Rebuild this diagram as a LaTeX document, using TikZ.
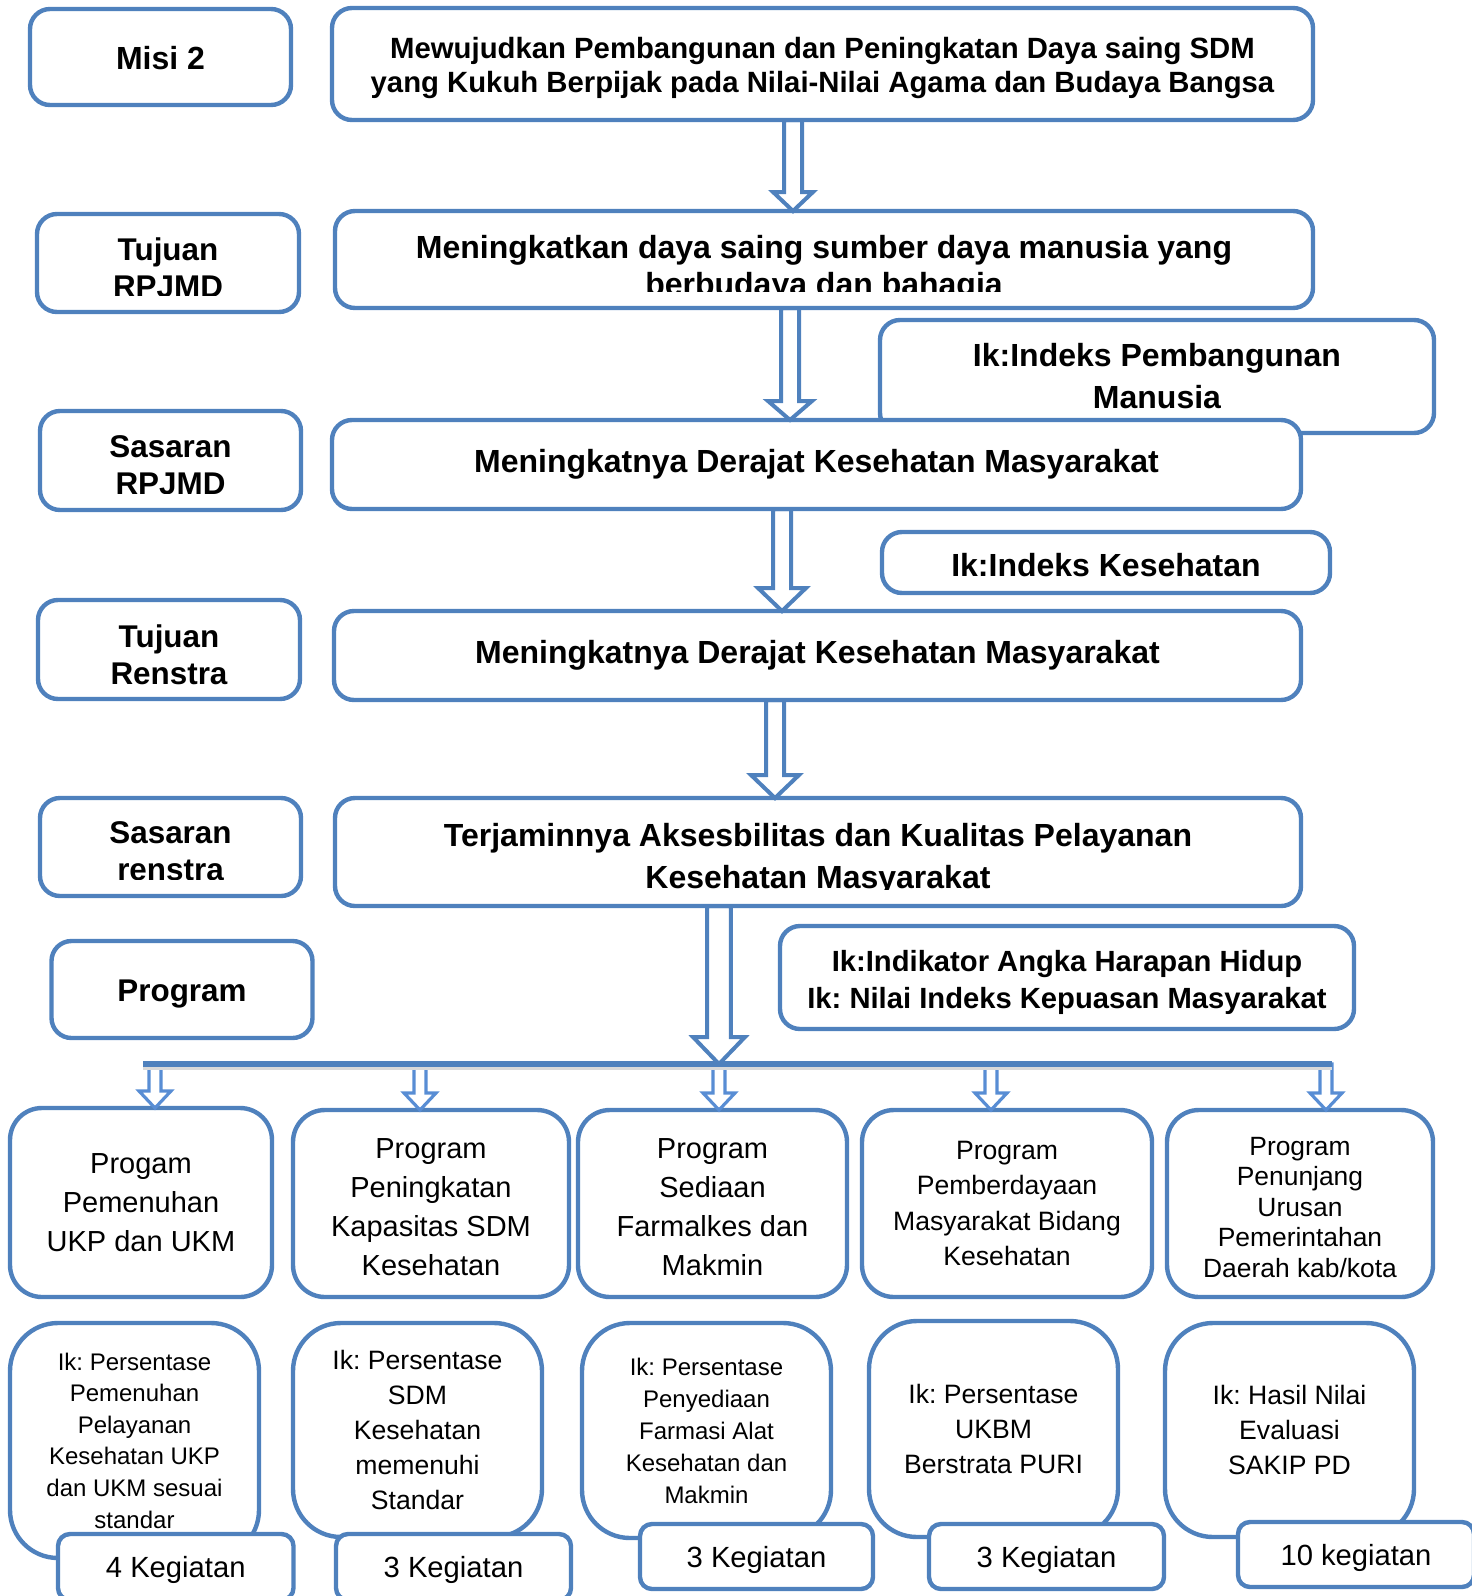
\documentclass[tikz,border=0pt]{standalone}
\usepackage{fontspec}
\setmainfont{Liberation Sans}
\usetikzlibrary{calc}

\definecolor{boxblue}{RGB}{79,129,189}
\definecolor{arrowblue}{RGB}{88,141,212}

\tikzset{
  every node/.style={inner sep=0pt, outer sep=0pt},
  box/.style={draw=boxblue, line width=2.2pt, fill=white, rounded corners=10pt, align=center},
  progbox/.style={box, rounded corners=16pt},
  ikbox/.style={box, rounded corners=24pt},
  kegbox/.style={box, rounded corners=6pt},
  side/.style={font=\bfseries\fontsize{15.7}{18.5}\selectfont, align=center},
  head/.style={font=\bfseries\fontsize{16}{18.5}\selectfont, align=center},
  prog/.style={font=\fontsize{14.5}{19.5}\selectfont, align=center},
  keg/.style={font=\fontsize{14.6}{16}\selectfont},
  arrowline/.style={draw=boxblue, line width=2pt, line join=miter},
  smallarrow/.style={draw=arrowblue, line width=1.6pt, line join=miter},
  bar/.style={draw=boxblue, line width=3pt},
}

% hollow block arrow: [style]{from}{to}{shaft half}{head half}{head length}
\newcommand{\hollowarrow}[6][arrowline]{%
  \draw[#1] let \p1=#2, \p2=#3 in
    (\x1-#4,\y1) -- (\x1-#4,\y2+#6) -- (\x1-#5,\y2+#6) -- (\x2,\y2)
    -- (\x1+#5,\y2+#6) -- (\x1+#4,\y2+#6) -- (\x1+#4,\y1) -- cycle;}

% text placed in a box, a little below its centre
\newcommand{\boxtext}[4][-2.5pt]{\node[#3] at ([yshift=#1]#2.center) {#4};}

% text cut off at the bottom of its box
\newcommand{\cuttext}[4][-2.25pt]{%
  \begin{scope}
    \clip (#2.north west) rectangle ([yshift=8.5pt]#2.south east);
    \node[#3] at ([yshift=#1]#2.center) {#4};
  \end{scope}}

\begin{document}
\frenchspacing
\begin{tikzpicture}[x=0.5pt,y=-0.5pt]
  \useasboundingbox (0,0) rectangle (1472,1596);

  % left column
  \node[box, minimum width=130.5pt, minimum height=48pt] (misi) at (160.5,57) {};
  \boxtext[-0.5pt]{misi}{side, font=\bfseries\fontsize{16}{18.5}\selectfont}{Misi 2}
  \node[box, minimum width=131pt, minimum height=49pt] (tujr) at (168,263) {};
  \cuttext{tujr}{side}{Tujuan\\RPJMD}
  \node[box, minimum width=130.5pt, minimum height=49.5pt] (sasr) at (170.5,460.5) {};
  \cuttext{sasr}{side}{Sasaran\\RPJMD}
  \node[box, minimum width=131pt, minimum height=49.5pt] (tujren) at (169,649.5) {};
  \boxtext{tujren}{side}{Tujuan\\Renstra}
  \node[box, minimum width=130.5pt, minimum height=49pt] (sasren) at (170.5,847) {};
  \cuttext{sasren}{side}{Sasaran\\renstra}
  \node[box, minimum width=130.5pt, minimum height=48.5pt] (prog) at (182,989.5) {};
  \boxtext{prog}{side}{Program}

  % main column
  \node[box, minimum width=490.5pt, minimum height=56pt] (misitxt) at (822.5,64) {};
  \boxtext[-1.8pt]{misitxt}{font=\bfseries\fontsize{14.65}{17}\selectfont, align=center}
    {Mewujudkan Pembangunan dan Peningkatan Daya saing SDM\\yang Kukuh Berpijak pada Nilai-Nilai Agama dan Budaya Bangsa}
  \node[box, minimum width=489pt, minimum height=48.5pt] (tujuan) at (824,259.5) {};
  \cuttext[-4.75pt]{tujuan}{head}{Meningkatkan daya saing sumber daya manusia yang\\berbudaya dan bahagia}
  \node[box, font=\bfseries\fontsize{16}{21}\selectfont, minimum width=277pt, minimum height=56.5pt] (ikipm) at (1157,376.5)
    {Ik:Indeks Pembangunan\\Manusia};
  \node[box, head, minimum width=484.5pt, minimum height=44.5pt] (sasaran) at (816.5,464.5) {Meningkatnya Derajat Kesehatan Masyarakat};
  \node[box, minimum width=224pt, minimum height=30.5pt] (ikik) at (1106,562.5) {};
  \boxtext[-1.5pt]{ikik}{head}{Ik:Indeks Kesehatan}
  \node[box, head, minimum width=483.5pt, minimum height=44.5pt] (tujrens) at (817.5,655.5) {Meningkatnya Derajat Kesehatan Masyarakat};
  \node[box, minimum width=483pt, minimum height=54pt] (sasrens) at (818,852) {};
  \cuttext[-3.5pt]{sasrens}{head, font=\bfseries\fontsize{16}{21}\selectfont}{Terjaminnya Aksesbilitas dan Kualitas Pelayanan\\Kesehatan Masyarakat}
  \node[box, minimum width=287pt, minimum height=51.5pt] (ikprog) at (1067,977.5) {};
  \boxtext{ikprog}{font=\bfseries\fontsize{14.6}{18.8}\selectfont, align=center}
    {Ik:Indikator Angka Harapan Hidup\\Ik: Nilai Indeks Kepuasan Masyarakat}

  % arrows down the main column
  \coordinate (a1) at (793,0);
  \coordinate (a2) at (790,0);
  \coordinate (a3) at (782,0);
  \coordinate (a4) at (775,0);
  \coordinate (a5) at (719,0);
  \hollowarrow{(a1 |- misitxt.south)}{(a1 |- tujuan.north)}{4.5pt}{10pt}{9.5pt}
  \hollowarrow{(a2 |- tujuan.south)}{(a2 |- sasaran.north)}{4.5pt}{11pt}{9.5pt}
  \hollowarrow{(a3 |- sasaran.south)}{(a3 |- tujrens.north)}{4.5pt}{12pt}{11.5pt}
  \hollowarrow{(a4 |- tujrens.south)}{(a4 |- sasrens.north)}{4.5pt}{12pt}{11.5pt}

  % programs
  \node[progbox, prog, minimum width=131pt, minimum height=94.5pt] (p1) at (141,1202.5)
    {Progam\\Pemenuhan\\UKP dan UKM};
  \node[progbox, minimum width=138pt, minimum height=93.5pt] (p2) at (431,1203.5) {};
  \boxtext[-2pt]{p2}{prog}{Program\\Peningkatan\\Kapasitas SDM\\Kesehatan}
  \node[progbox, minimum width=134.5pt, minimum height=93.5pt] (p3) at (712.5,1203.5) {};
  \boxtext[-2pt]{p3}{prog}{Program\\Sediaan\\Farmalkes dan\\Makmin}
  \node[progbox, prog, font=\fontsize{13.3}{17.8}\selectfont, minimum width=145pt, minimum height=93.5pt] (p4) at (1007,1203.5)
    {Program\\Pemberdayaan\\Masyarakat Bidang\\Kesehatan};
  \node[progbox, minimum width=133pt, minimum height=93.5pt] (p5) at (1300,1203.5) {};
  \boxtext[-2pt]{p5}{prog, font=\fontsize{13.2}{15.25}\selectfont}{Program\\Penunjang\\Urusan\\Pemerintahan\\Daerah kab/kota}

  % bar with the program arrows
  \coordinate (bl) at (143,1064);
  \coordinate (br) at (1332,1064);
  \coordinate (s1) at (155,1064);
  \coordinate (s2) at (420,1064);
  \coordinate (s3) at (719,1064);
  \coordinate (s4) at (991,1064);
  \coordinate (s5) at (1326,1064);
  \hollowarrow{(a5 |- sasrens.south)}{(a5 |- bl)}{5.9pt}{13pt}{13.5pt}
  \hollowarrow[smallarrow]{(s1)}{(s1 |- p1.north)}{3pt}{8pt}{8.5pt}
  \hollowarrow[smallarrow]{(s2)}{(s2 |- p2.north)}{3pt}{8pt}{8.5pt}
  \hollowarrow[smallarrow]{(s3)}{(s3 |- p3.north)}{3pt}{8pt}{8.5pt}
  \hollowarrow[smallarrow]{(s4)}{(s4 |- p4.north)}{3pt}{8pt}{8.5pt}
  \hollowarrow[smallarrow]{(s5)}{(s5 |- p5.north)}{3pt}{8pt}{8.5pt}
  \draw[gray!30, line width=2pt] ([yshift=-2pt]bl) -- ([yshift=-2pt]br);
  \draw[bar] (bl) -- (br);

  % indicators of the programs
  \node[ikbox, font=\fontsize{12}{15.8}\selectfont, minimum width=124.5pt, minimum height=117.5pt] (i1) at (134.5,1440.5)
    {Ik: Persentase\\Pemenuhan\\Pelayanan\\Kesehatan UKP\\dan UKM sesuai\\standar};
  \node[ikbox, font=\fontsize{13.3}{17.5}\selectfont, minimum width=124.5pt, minimum height=107pt] (i2) at (417.5,1430)
    {Ik: Persentase\\SDM\\Kesehatan\\memenuhi\\Standar};
  \node[ikbox, font=\fontsize{12}{16}\selectfont, minimum width=124.5pt, minimum height=107.5pt] (i3) at (706.5,1430.5)
    {Ik: Persentase\\Penyediaan\\Farmasi Alat\\Kesehatan dan\\Makmin};
  \node[ikbox, font=\fontsize{13.3}{17.5}\selectfont, minimum width=124.5pt, minimum height=108pt] (i4) at (993.5,1429)
    {Ik: Persentase\\UKBM\\Berstrata PURI};
  \node[ikbox, font=\fontsize{13.3}{17.5}\selectfont, minimum width=124.5pt, minimum height=107pt] (i5) at (1289.5,1430)
    {Ik: Hasil Nilai\\Evaluasi\\SAKIP PD};

  % activities
  \node[kegbox, minimum width=117.75pt, minimum height=33pt] (k1) at (175.75,1567) {};
  \boxtext[-1.5pt]{k1}{keg}{4 Kegiatan}
  \node[kegbox, minimum width=117.5pt, minimum height=33pt] (k2) at (453.5,1567) {};
  \boxtext[-1.5pt]{k2}{keg}{3 Kegiatan}
  \node[kegbox, minimum width=116.5pt, minimum height=32.5pt] (k3) at (756.5,1556.5) {};
  \boxtext[-1.5pt]{k3}{keg}{3 Kegiatan}
  \node[kegbox, minimum width=117.5pt, minimum height=32.5pt] (k4) at (1046.5,1556.5) {};
  \boxtext[-1.5pt]{k4}{keg}{3 Kegiatan}
  \node[kegbox, minimum width=118pt, minimum height=32.5pt] (k5) at (1356,1554.5) {};
  \boxtext[-1.5pt]{k5}{keg}{10 kegiatan}
\end{tikzpicture}
\end{document}
